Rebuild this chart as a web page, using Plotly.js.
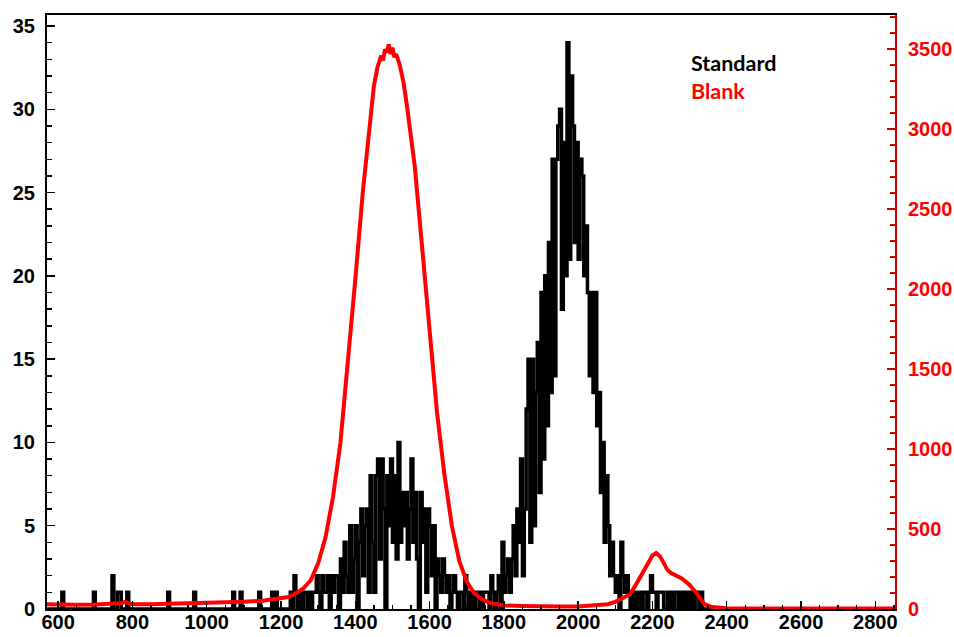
<!DOCTYPE html>
<html>
<head>
<meta charset="utf-8">
<script src="https://cdn.plot.ly/plotly-3.0.1.min.js"></script>
<style>html,body{margin:0;padding:0;background:#fff;}#chart{width:954px;height:637px;}</style>
</head>
<body>
<div id="chart"></div>
<script>
// ---- Data ----
// Standard histogram: bin width 5, main block counts starting at bin edge 1200
const binWidth = 5;
const xMin = 570;
const xMax = 2850;
const stdStart = 1200;
const stdCounts = [
  // 1200 - 1295
  0,0,0,0,0,1,0,2,1,0, 1,0,1,1,0,1,0,1,1,2,
  // 1300 - 1395
  1,0,2,1,1,2,0,2,1,2, 2,0,3,1,4,2,1,5,1,3,
  // 1400 - 1495
  5,0,4,6,2,5,6,1,8,4, 1,8,9,3,9,6,0,8,5,9,
  // 1500 - 1595
  4,8,3,10,4,7,5,7,3,6, 9,4,7,3,0,7,4,6,1,6,
  // 1600 - 1695
  5,2,5,0,3,2,1,3,2,1, 2,0,1,2,1,0,1,1,0,2,
  // 1700 - 1795
  1,0,1,0,1,0,0,1,0,1, 1,1,0,2,1,0,1,2,0,4,
  // 1800 - 1895
  1,2,3,1,3,5,2,6,4,9, 2,6,12,15,4,15,5,13,16,7,
  // 1900 - 1995
  19,9,20,11,22,13,27,14,27,29, 30,18,28,20,34,21,32,29,22,28,
  // 2000 - 2095
  21,27,26,20,23,19,14,19,13,19, 11,13,7,10,4,8,5,2,4,2,
  // 2100 - 2195
  1,2,0,4,2,1,2,1,0,1, 0,1,0,1,0,1,1,0,1,2,
  // 2200 - 2295
  1,1,0,1,1,1,0,0,1,0, 1,0,1,1,0,1,0,1,0,1,
  // 2300 - 2395
  0,1,0,1,1,0,1,0,0,0, 0,0,0,0,0,0,0,0,0,0
];
// isolated low-side Standard counts (bin left edges)
const stdSpikeX = [610, 695, 745, 760, 765, 785, 895, 965, 1070, 1090, 1140, 1175, 1185];
const stdSpikeY = [1, 1, 2, 1, 1, 1, 1, 1, 1, 1, 1, 1, 1];

// Blank curve
const blankX = [570,600,650,700,750,770,780,790,800,850,900,950,1000,1050,1100,1150,1180,1200,1220,1240,1260,1280,1300,1320,1340,1360,1380,1400,1420,1440,1450,1460,1465,1470,1475,1480,1485,1490,1495,1500,1505,1510,1520,1530,1540,1560,1580,1600,1620,1640,1660,1680,1700,1720,1740,1760,1800,1850,1900,1950,2000,2050,2080,2100,2120,2140,2160,2180,2200,2210,2220,2230,2240,2250,2260,2270,2280,2290,2300,2320,2340,2360,2380,2400,2500,2600,2700,2853];
const blankY = [30,28,27,28,30,36,45,34,29,30,32,34,37,40,45,52,60,66,75,98,128,180,285,450,700,1040,1520,2060,2600,3080,3270,3390,3430,3460,3430,3500,3480,3530,3470,3510,3450,3470,3400,3290,3130,2770,2260,1720,1230,840,520,300,170,100,62,40,22,18,15,15,16,22,30,45,68,92,170,250,335,350,330,290,245,225,215,205,190,170,150,95,30,12,6,4,3,3,3,3];

const xTicks = [600,800,1000,1200,1400,1600,1800,2000,2200,2400,2600,2800];
const legendLabels = ["Standard", "Blank"];

// ---- Build step histogram ----
const nBins = Math.round((xMax - xMin) / binWidth);
const counts = new Array(nBins).fill(0);
stdSpikeX.forEach((x, i) => { counts[Math.round((x - xMin) / binWidth)] = stdSpikeY[i]; });
stdCounts.forEach((c, i) => {
  const k = Math.round((stdStart + i * binWidth - xMin) / binWidth);
  if (k >= 0 && k < nBins) counts[k] = c;
});
const hx = [], hy = [];
for (let k = 0; k < nBins; k++) { hx.push(xMin + k * binWidth); hy.push(counts[k]); }
hx.push(xMin + nBins * binWidth); hy.push(counts[nBins - 1]);

const tickFont = {family: "Liberation Sans, Arial, sans-serif", size: 20, weight: "bold", color: "#000"};

const traces = [
  {x: hx, y: hy, type: "scatter", mode: "lines", line: {shape: "hv", color: "#000", width: 3.5}, xaxis: "x", yaxis: "y", name: legendLabels[0], hoverinfo: "skip"},
  {x: blankX, y: blankY, type: "scatter", mode: "lines", line: {color: "#ff0000", width: 4}, xaxis: "x", yaxis: "y2", name: legendLabels[1], hoverinfo: "skip"}
];

const layout = {
  width: 954, height: 637,
  margin: {l: 47, r: 59, t: 15, b: 28, pad: 0},
  paper_bgcolor: "#fff", plot_bgcolor: "#fff",
  showlegend: false,
  xaxis: {
    range: [570, 2853], tickvals: xTicks, ticktext: xTicks.map(String),
    ticks: "inside", ticklen: 8, tickwidth: 1.5, tickcolor: "#000",
    minor: {dtick: 50, tick0: 0, ticks: "inside", ticklen: 4, tickwidth: 1.5, tickcolor: "#000"},
    showline: true, linecolor: "#000", linewidth: 2, mirror: true,
    showgrid: false, zeroline: false, tickfont: tickFont, ticklabelstandoff: -6
  },
  yaxis: {
    range: [0, 35.66], tick0: 0, dtick: 5,
    ticks: "inside", ticklen: 8, tickwidth: 1.5, tickcolor: "#000",
    minor: {dtick: 1, ticks: "inside", ticklen: 5, tickwidth: 1.5, tickcolor: "#000"},
    showline: true, linecolor: "#000", linewidth: 2,
    showgrid: false, zeroline: false, tickfont: tickFont, ticklabelstandoff: 6
  },
  yaxis2: {
    overlaying: "y", side: "right", anchor: "x",
    range: [0, 3714], tick0: 0, dtick: 500,
    ticks: "inside", ticklen: 8, tickwidth: 1.5, tickcolor: "#cc0000",
    minor: {dtick: 100, ticks: "inside", ticklen: 5, tickwidth: 1.5, tickcolor: "#cc0000"},
    showline: true, linecolor: "#cc0000", linewidth: 2,
    showgrid: false, zeroline: false,
    tickfont: {family: "Liberation Sans, Arial, sans-serif", size: 20, weight: "bold", color: "#ff0000"},
    ticklabelstandoff: 7
  },
  annotations: [
    {text: legendLabels[0], xref: "paper", yref: "paper", x: 0.757, y: 0.919, xanchor: "left", yanchor: "middle", showarrow: false,
     font: {family: "Lato, sans-serif", size: 21.5, weight: "bold", color: "#000"}},
    {text: legendLabels[1], xref: "paper", yref: "paper", x: 0.757, y: 0.872, xanchor: "left", yanchor: "middle", showarrow: false,
     font: {family: "Lato, sans-serif", size: 21.5, weight: "bold", color: "#ff0000"}}
  ]
};

Plotly.newPlot("chart", traces, layout, {staticPlot: true, displayModeBar: false});
</script>
</body>
</html>
